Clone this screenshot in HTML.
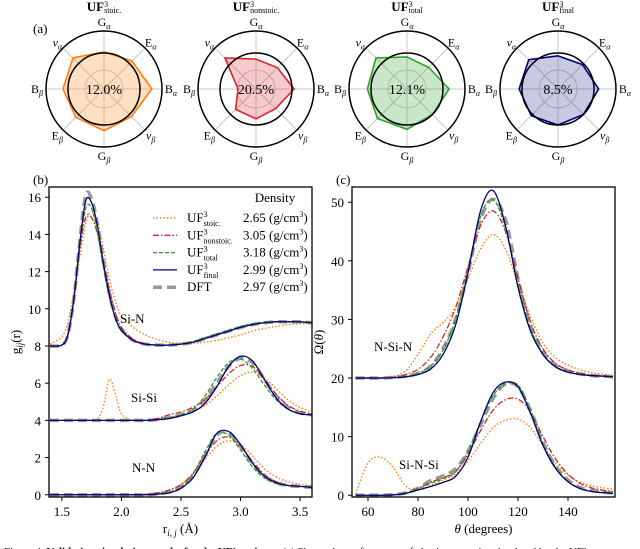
<!DOCTYPE html>
<html><head><meta charset="utf-8">
<style>
html,body{margin:0;padding:0;background:#fff;}
svg{display:block;font-family:"Liberation Serif",serif;}
</style></head>
<body>
<svg id="fig" width="640" height="549" viewBox="0 0 640 549" xmlns="http://www.w3.org/2000/svg">
<g id="radars"></g>
<g id="pb"></g>
<g id="pc"></g>
<text x="4" y="557" font-size="11" dy="-2">Figure 4.  <tspan font-weight="bold">Validation simulation results for the UF³ variants.</tspan>  (a) Shows the performance of elastic properties simulated by the UF³</text>
</svg>
<script>
// ---------- Radar data (a) ----------
const radarAxes = ["G","E","B","ν","G","E","B","ν"];
const radarSubs = ["α","α","α","β","β","β","β","α"];
const radarTitles = ["stoic.","nonstoic.","total","final"];
const radarErrors = ["12.0%","20.5%","12.1%","8.5%"];
const radarStoic = [1.03,1.1,1.33,1.08,1.16,1.11,1.14,1.22];
const radarNonstoic = [0.83,0.84,1.06,0.77,0.83,0.8,0.5,1.22];
const radarTotal = [0.89,0.85,1.17,1.0,1.12,1.16,1.1,1.22];
const radarFinal = [0.92,0.96,1.13,1.0,1.0,1.05,1.08,1.15];

// ---------- RDF data (b) ----------
const rGrid = [1.4,1.5,1.55,1.6,1.65,1.7,1.75,1.8,1.85,1.9,1.95,2.0,2.1,2.2,2.3,2.4,2.5,2.6,2.7,2.8,2.9,3.0,3.1,3.2,3.3,3.4,3.5,3.6];
const rdfPairs = ["Si-N","Si-Si","N-N"];
const rdfOffsets = [8,4,0];
const siN_stoic    = [0.1,0.5,1.3,2.8,4.8,6.6,7.2,6.6,5.2,3.6,2.4,1.6,1.0,0.6,0.35,0.2,0.15,0.15,0.2,0.3,0.45,0.6,0.8,0.95,1.05,1.15,1.2,1.2];
const siN_nonstoic = [0,0.05,0.6,2.5,5.2,6.9,6.9,6.0,4.5,3.0,1.8,1.0,0.35,0.12,0.05,0.05,0.1,0.2,0.4,0.6,0.8,1.0,1.15,1.25,1.3,1.3,1.3,1.25];
const siN_total    = [0,0.05,0.6,2.5,5.3,7.4,7.4,6.0,4.2,2.6,1.5,0.8,0.3,0.1,0.05,0.05,0.12,0.25,0.45,0.65,0.85,1.05,1.2,1.28,1.3,1.3,1.3,1.25];
const siN_final    = [0,0.05,0.6,2.5,5.5,7.8,7.7,6.4,4.4,2.7,1.5,0.85,0.3,0.1,0.05,0.05,0.1,0.2,0.4,0.6,0.8,1.0,1.15,1.25,1.3,1.3,1.3,1.25];
const siN_dft      = [0,0.05,0.6,2.5,5.6,8.1,7.9,6.5,4.5,2.8,1.6,0.9,0.3,0.1,0.05,0.05,0.1,0.2,0.4,0.6,0.8,1.0,1.15,1.25,1.3,1.3,1.3,1.25];
const siSi_stoic    = [0,0,0,0,0,0,0,0.05,0.8,2.2,1.4,0.35,0,0,0.05,0.15,0.3,0.5,0.8,1.3,1.9,2.4,2.6,2.3,1.7,1.1,0.7,0.45];
const siSi_nonstoic = [0,0,0,0,0,0,0,0,0,0,0,0,0,0,0.1,0.3,0.45,0.7,1.1,1.8,2.5,2.95,2.9,2.2,1.4,0.8,0.5,0.35];
const siSi_total    = [0,0,0,0,0,0,0,0,0,0,0,0,0,0,0.05,0.15,0.3,0.6,1.3,2.3,3.1,3.3,2.8,1.9,1.1,0.6,0.4,0.3];
const siSi_final    = [0,0,0,0,0,0,0,0,0,0,0,0,0,0,0.03,0.1,0.25,0.45,0.9,1.8,2.9,3.45,3.2,2.2,1.2,0.6,0.35,0.3];
const siSi_dft      = [0,0,0,0,0,0,0,0,0,0,0,0,0,0,0.05,0.15,0.3,0.55,1.1,2.0,2.9,3.35,3.1,2.2,1.3,0.7,0.4,0.3];
const nN_stoic    = [0,0,0,0,0,0,0,0,0,0,0,0,0,0.02,0.1,0.25,0.55,1.1,1.9,2.6,2.9,2.7,2.1,1.4,0.95,0.7,0.55,0.5];
const nN_nonstoic = [0,0,0,0,0,0,0,0,0,0,0,0,0,0.02,0.1,0.25,0.55,1.15,2.1,2.9,3.1,2.6,1.8,1.1,0.7,0.5,0.45,0.4];
const nN_total    = [0,0,0,0,0,0,0,0,0,0,0,0,0,0,0.05,0.15,0.4,1.1,2.3,3.3,3.2,2.4,1.5,0.9,0.6,0.5,0.45,0.4];
const nN_final    = [0,0,0,0,0,0,0,0,0,0,0,0,0,0,0.03,0.1,0.35,0.9,2.0,3.3,3.4,2.7,1.7,1.0,0.65,0.5,0.45,0.4];
const nN_dft      = [0,0,0,0,0,0,0,0,0,0,0,0,0,0,0.05,0.15,0.4,1.0,2.1,3.2,3.35,2.6,1.7,1.0,0.65,0.5,0.45,0.4];
const rTicks = [1.5,2.0,2.5,3.0,3.5];
const gTicks = [0,2,4,6,8,10,12,14,16];

// ---------- ADF data (c) ----------
const tGrid = [55,60,65,70,75,80,85,90,95,100,105,110,115,120,125,130,135,140,145,150,155,158];
const adfTriplets = ["N-Si-N","Si-N-Si"];
const adfOffsets = [20,0];
const nsin_stoic    = [0,0,0.05,0.3,1.2,4,7.5,9.5,12,17,22,24.5,22,16,10.5,6,3.5,2.2,1.4,0.9,0.6,0.5];
const nsin_nonstoic = [0,0,0,0.15,0.6,1.5,3.5,7,12,19,26,28.5,25,17,9.5,5,2.5,1.4,0.8,0.5,0.35,0.3];
const nsin_total    = [0,0,0,0.1,0.3,0.8,2,4.8,10,18.5,27.5,30.5,25.5,16,8.5,4.2,2,1.1,0.6,0.4,0.3,0.2];
const nsin_final    = [0,0,0,0.05,0.2,0.6,1.5,4,9,18,28.5,32,26,15.5,8,4,1.9,1,0.6,0.4,0.3,0.2];
const nsin_dft      = [0,0,0,0.1,0.3,0.8,2,5,10,18,27,30.5,27,17,9,4.5,2.2,1.2,0.7,0.4,0.3,0.2];
const sins_stoic    = [0.2,5.5,6.5,4.8,1.6,0.9,1.6,2.6,3.6,5.8,8.8,11.5,12.8,13.0,11.5,8.5,5.5,3.4,2.2,1.6,1.2,1.0];
const sins_nonstoic = [0,0,0,0.1,0.4,1.2,2.2,3,4,7,11,14.5,16.3,16.4,14.2,10,6.2,3.6,2,1.2,0.8,0.6];
const sins_total    = [0,0,0,0.1,0.4,1.1,2,2.8,4,7.5,12.5,17,19,18.8,14.5,8.8,4.8,2.4,1.2,0.7,0.5,0.4];
const sins_final    = [0,0,0,0.05,0.3,0.9,1.5,2.2,3.2,6.5,12.5,17.5,19.3,18.5,14,8.5,4.6,2.3,1.1,0.6,0.4,0.3];
const sins_dft      = [0,0,0,0.1,0.4,1.2,2.5,3.3,4.5,7.5,12,16.5,19,18.5,14.5,9,5,2.6,1.3,0.8,0.5,0.4];
const tTicks = [60,80,100,120,140];
const oTicks = [0,10,20,30,40,50];

const legendDensity = ["2.65","3.05","3.18","2.99","2.97"];
const legendSubs = ["stoic.","nonstoic.","total","final",""];

const NS="http://www.w3.org/2000/svg";
function mk(tag, attrs, parent){const e=document.createElementNS(NS,tag);for(const k in attrs)e.setAttribute(k,attrs[k]);if(parent)parent.appendChild(e);return e;}
const styles=[
 {stroke:"#ff7f0e",w:1.4,dash:"1.5,2"},
 {stroke:"#d62728",w:1.3,dash:"6,2,1.5,2"},
 {stroke:"#2ca02c",w:1.3,dash:"4,2"},
 {stroke:"#000080",w:1.3,dash:""},
 {stroke:"#999999",w:3.5,dash:"9,5"}];
const seriesNames=["stoic","nonstoic","total","final","dft"];

function smooth(pts){
  let d="M"+pts[0][0].toFixed(2)+","+pts[0][1].toFixed(2);
  for(let i=0;i<pts.length-1;i++){
    const p0=pts[Math.max(0,i-1)],p1=pts[i],p2=pts[i+1],p3=pts[Math.min(pts.length-1,i+2)];
    const c1=[p1[0]+(p2[0]-p0[0])/6,p1[1]+(p2[1]-p0[1])/6];
    const c2=[p2[0]-(p3[0]-p1[0])/6,p2[1]-(p3[1]-p1[1])/6];
    d+="C"+c1.map(v=>v.toFixed(2))+" "+c2.map(v=>v.toFixed(2))+" "+p2.map(v=>v.toFixed(2));
  }
  return d;
}

// ---------- Radars ----------
(function(){
  const g=document.getElementById("radars");
  const centers=[104,256,407,558], cy=89, R0=36, Rout=58, Rg=19;
  const data=[radarStoic,radarNonstoic,radarTotal,radarFinal];
  const cols=["#ff7f0e","#d62728","#2ca02c","#000080"];
  const fills=["rgba(255,150,50,0.3)","rgba(220,40,50,0.25)","rgba(44,160,44,0.25)","rgba(40,40,140,0.25)"];
  const t=mk("text",{x:33,y:33,"font-size":13},g);t.textContent="(a)";
  
  
  centers.forEach((cx,k)=>{
    const rg=mk("g",{},g);
    
    
    const tt=mk("text",{x:cx,y:11,"text-anchor":"middle","font-size":13,"font-weight":"bold"},rg);
    tt.innerHTML='UF<tspan dy="-4" font-size="8" font-weight="normal">3</tspan><tspan dy="6" font-size="8" font-weight="normal" dx="-4">'+radarTitles[k]+'</tspan>';
    
    
    for(let i=0;i<8;i++){
      const a=(90-45*i)*Math.PI/180;
      mk("line",{x1:cx,y1:cy,x2:cx+Rout*Math.cos(a),y2:cy-Rout*Math.sin(a),stroke:"#c8c8c8","stroke-width":1},rg);
      const lr=(i%2===0)?67:66;
      const lx=cx+lr*Math.cos(a), ly=cy-lr*Math.sin(a)+4;
      const lb=mk("text",{x:lx,y:ly,"text-anchor":"middle","font-size":12},rg);
      lb.innerHTML=(radarAxes[i]==="ν"?'<tspan font-style="italic">ν</tspan>':radarAxes[i])+'<tspan font-size="8" dy="3" font-style="italic">'+radarSubs[i]+'</tspan>';
      
      
    }
    mk("circle",{cx:cx,cy:cy,r:Rg,fill:"none",stroke:"#c8c8c8","stroke-width":1},rg);
    const pts=data[k].map((v,i)=>{const a=(90-45*i)*Math.PI/180;return (cx+v*R0*Math.cos(a)).toFixed(2)+","+(cy-v*R0*Math.sin(a)).toFixed(2);}).join(" ");
    const poly=mk("polygon",{points:pts,fill:fills[k],stroke:cols[k],"stroke-width":1.6,"stroke-linejoin":"miter"},rg);
    
    
    mk("circle",{cx:cx,cy:cy,r:R0,fill:"none",stroke:"#000","stroke-width":1.5},rg);
    mk("circle",{cx:cx,cy:cy,r:Rout,fill:"none",stroke:"#000","stroke-width":1.5},rg);
    const et=mk("text",{x:cx,y:cy+5,"text-anchor":"middle","font-size":14},rg);
    et.textContent=radarErrors[k];
    
    
  });
})();

function panel(gid,box,xd,yd,xt,yt,xfmt,label,ylab,xlab){
  const g=document.getElementById(gid);
  const X=v=>box.x0+(v-xd[0])/(xd[1]-xd[0])*(box.x1-box.x0);
  const Y=v=>box.y1-(v-yd[0])/(yd[1]-yd[0])*(box.y1-box.y0);
  const clip=mk("clipPath",{id:gid+"clip"},g);
  mk("rect",{x:box.x0,y:box.y0,width:box.x1-box.x0,height:box.y1-box.y0},clip);
  const pl=mk("text",{x:box.x0-16,y:box.y0-3,"font-size":13},g);pl.textContent=label;
  
  
  xt.forEach(v=>{
    mk("line",{x1:X(v),x2:X(v),y1:box.y1,y2:box.y1+4,stroke:"#000","stroke-width":1},g);
    const t=mk("text",{x:X(v),y:box.y1+19,"text-anchor":"middle","font-size":13},g);t.textContent=xfmt(v);
    
    
  });
  yt.forEach(v=>{
    mk("line",{x1:box.x0-4,x2:box.x0,y1:Y(v),y2:Y(v),stroke:"#000","stroke-width":1},g);
    const t=mk("text",{x:box.x0-8,y:Y(v)+5,"text-anchor":"end","font-size":13},g);t.textContent=v;
    
    
  });
  const xl=mk("text",{x:(box.x0+box.x1)/2,y:box.y1+36,"text-anchor":"middle","font-size":13},g);xl.innerHTML=xlab;
  
  
  const yl=mk("text",{x:0,y:0,"text-anchor":"middle","font-size":13,transform:"translate("+(box.x0-29)+","+((box.y0+box.y1)/2)+") rotate(-90)"},g);yl.innerHTML=ylab;
  
  
  const lines=mk("g",{"clip-path":"url(#"+gid+"clip)"},g);
  const frame=mk("rect",{x:box.x0,y:box.y0,width:box.x1-box.x0,height:box.y1-box.y0,fill:"none",stroke:"#000","stroke-width":1.3},g);
  
  
  return {g,X,Y,lines};
}
function drawSeries(P,grid,sets,offsets,names){
  const order=[4,0,1,2,3];
  sets.forEach((set,pi)=>{
    order.forEach(s=>{
      const vals=set[s];
      const pts=grid.map((x,i)=>[P.X(x),P.Y(vals[i]+offsets[pi])]);
      const st=styles[s];
      const p=mk("path",{d:smooth(pts),fill:"none",stroke:st.stroke,"stroke-width":st.w,"stroke-dasharray":st.dash,"stroke-linejoin":"round"},P.lines);
      
      
    });
  });
}

// ---------- Panel b ----------
const PB=panel("pb",{x0:49,x1:312,y0:187,y1:497},[1.392,3.6],[-0.12,16.55],rTicks,gTicks,v=>v.toFixed(1),"(b)",
  'g<tspan font-size="9" dy="3" font-style="italic">ij</tspan><tspan dy="-3">(r)</tspan>','r<tspan font-size="9" dy="3" font-style="italic">i, j</tspan><tspan dy="-3"> (Å)</tspan>');
drawSeries(PB,rGrid,[
  [siN_stoic,siN_nonstoic,siN_total,siN_final,siN_dft],
  [siSi_stoic,siSi_nonstoic,siSi_total,siSi_final,siSi_dft],
  [nN_stoic,nN_nonstoic,nN_total,nN_final,nN_dft]],rdfOffsets,rdfPairs);
[["Si-N",120,323],["Si-Si",131,402],["N-N",132,472]].forEach(a=>{
  const t=mk("text",{x:a[1],y:a[2],"font-size":13},PB.g);t.textContent=a[0];
  
  
});
// legend
(function(){
  const g=mk("g",{},PB.g);
  
  
  const dh=mk("text",{x:275,y:202,"text-anchor":"middle","font-size":13},g);dh.textContent="Density";
  for(let i=0;i<5;i++){
    const y=218+i*17.3, st=styles[i];
    mk("line",{x1:153,x2:177,y1:y,y2:y,stroke:st.stroke,"stroke-width":st.w,"stroke-dasharray":st.dash},g);
    const t=mk("text",{x:187,y:y+4,"font-size":13},g);
    t.innerHTML= i<4 ? 'UF<tspan dy="-5" font-size="8">3</tspan><tspan dy="9" font-size="8" dx="-4">'+legendSubs[i]+'</tspan>' : 'DFT';
    
    
    const d=mk("text",{x:243,y:y+4,"font-size":13},g);
    d.innerHTML=legendDensity[i]+' (g/cm<tspan dy="-5" font-size="8">3</tspan><tspan dy="5">)</tspan>';
    
    
  }
})();

// ---------- Panel c ----------
const PC=panel("pc",{x0:352,x1:615,y0:187,y1:497},[53.6,158.8],[-0.3,52.6],tTicks,oTicks,v=>String(v),"(c)",
  'Ω(<tspan font-style="italic">θ</tspan>)','<tspan font-style="italic">θ</tspan> (degrees)');
drawSeries(PC,tGrid,[
  [nsin_stoic,nsin_nonstoic,nsin_total,nsin_final,nsin_dft],
  [sins_stoic,sins_nonstoic,sins_total,sins_final,sins_dft]],adfOffsets,adfTriplets);
[["N-Si-N",374,351],["Si-N-Si",399,469]].forEach(a=>{
  const t=mk("text",{x:a[1],y:a[2],"font-size":13},PC.g);t.textContent=a[0];
  
  
});
</script>
</body></html>
